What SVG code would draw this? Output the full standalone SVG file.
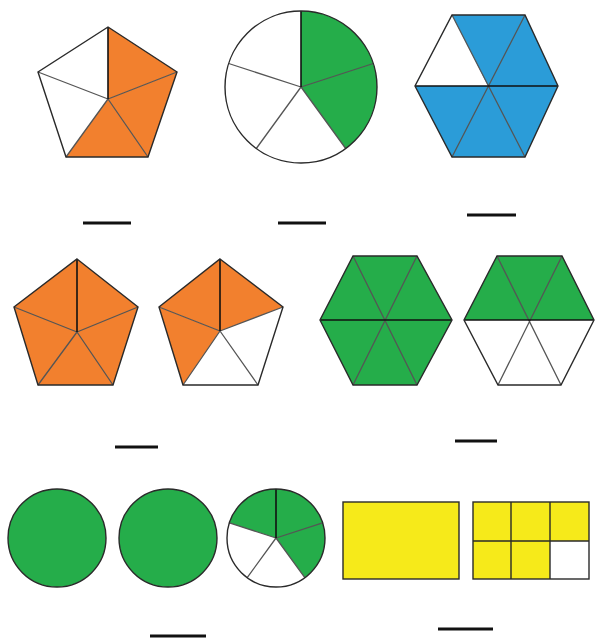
<svg xmlns="http://www.w3.org/2000/svg" width="595" height="639" viewBox="0 0 595 639">
<style>
.or{fill:#F2802E}
.gr{fill:#25AD4A}
.bl{fill:#2B9CD8}
.ye{fill:#F6EA1A}
.wh{fill:#ffffff}
.in{stroke:#555555;stroke-width:1.3;fill:none}
.ed{stroke:#2a2a2a;stroke-width:1.4;fill:none}
.ax{stroke:#111111;stroke-width:1.6;fill:none}
.blank{stroke:#111111;stroke-width:3;fill:none}
</style>
<rect width="595" height="639" fill="#ffffff"/>

<g id="pentagon1">
<polygon class="wh" points="108,27 177,72 148,157 66,157 38,72"/>
<polygon class="or" points="108,99 108,27 177,72"/>
<polygon class="or" points="108,99 177,72 148,157"/>
<polygon class="or" points="108,99 148,157 66,157"/>
<path class="in" d="M108,99 L177,72 M108,99 L148,157 M108,99 L66,157 M108,99 L38,72"/>
<path class="ax" d="M108,99 L108,27"/>
<polygon class="ed" points="108,27 177,72 148,157 66,157 38,72"/>
</g>

<g id="circle1">
<circle class="wh" cx="301" cy="87" r="76"/>
<path class="gr" d="M301,87 L301,11 A76,76 0 0 1 345.7,148.5 Z"/>
<path class="in" d="M301,87 L373.3,63.5 M301,87 L345.7,148.5 M301,87 L256.3,148.5 M301,87 L228.7,63.5"/>
<path class="ax" d="M301,87 L301,11"/>
<circle class="ed" cx="301" cy="87" r="76"/>
</g>

<g id="hexagon1">
<polygon class="bl" points="452,15 525,15 558,86 525,157 452,157 415,86"/>
<polygon class="wh" points="488,86 415,86 452,15"/>
<path class="in" d="M452,15 L525,157 M525,15 L452,157"/>
<path class="ax" d="M415,86 L558,86"/>
<polygon class="ed" points="452,15 525,15 558,86 525,157 452,157 415,86"/>
</g>

<g id="pentagon2">
<polygon class="or" points="77,259 138,307 113,385 38,385 14,307"/>
<path class="in" d="M77,332 L138,307 M77,332 L113,385 M77,332 L38,385 M77,332 L14,307"/>
<path class="ax" d="M77,332 L77,259"/>
<polygon class="ed" points="77,259 138,307 113,385 38,385 14,307"/>
</g>

<g id="pentagon3">
<polygon class="wh" points="220,259 283,307 258,385 183,385 159,307"/>
<polygon class="or" points="220,331 159,307 220,259 283,307"/>
<polygon class="or" points="220,331 183,385 159,307"/>
<path class="in" d="M220,331 L283,307 M220,331 L258,385 M220,331 L183,385 M220,331 L159,307"/>
<path class="ax" d="M220,331 L220,259"/>
<polygon class="ed" points="220,259 283,307 258,385 183,385 159,307"/>
</g>

<g id="hexagon2">
<polygon class="gr" points="353,256 417,256 452,320 417,385 353,385 320,320"/>
<path class="in" d="M353,256 L417,385 M417,256 L353,385"/>
<path class="ax" d="M320,320 L452,320"/>
<polygon class="ed" points="353,256 417,256 452,320 417,385 353,385 320,320"/>
</g>

<g id="hexagon3">
<polygon class="wh" points="497,256 562,256 594,320 561,385 498,385 464,320"/>
<polygon class="gr" points="497,256 562,256 594,320 464,320"/>
<path class="in" d="M497,256 L561,385 M562,256 L498,385"/>
<path class="ax" d="M464,320 L594,320"/>
<polygon class="ed" points="497,256 562,256 594,320 561,385 498,385 464,320"/>
</g>

<g id="circle2">
<circle class="gr" cx="57" cy="538" r="49"/>
<circle class="ed" cx="57" cy="538" r="49"/>
</g>

<g id="circle3">
<circle class="gr" cx="168" cy="538" r="49"/>
<circle class="ed" cx="168" cy="538" r="49"/>
</g>

<g id="circle4">
<circle class="wh" cx="276" cy="538" r="49"/>
<path class="gr" d="M276,538 L229.4,522.9 A49,49 0 1 1 304.8,577.6 Z"/>
<path class="in" d="M276,538 L322.6,522.9 M276,538 L304.8,577.6 M276,538 L247.2,577.6 M276,538 L229.4,522.9"/>
<path class="ax" d="M276,538 L276,489"/>
<circle class="ed" cx="276" cy="538" r="49"/>
</g>

<g id="rect1">
<rect class="ye" x="343" y="502" width="116" height="77"/>
<rect class="ed" x="343" y="502" width="116" height="77"/>
</g>

<g id="rect2">
<rect class="ye" x="473" y="502" width="116" height="77"/>
<rect class="wh" x="550" y="541" width="39" height="38"/>
<path class="ed" d="M511,502 L511,579 M550,502 L550,579 M473,541 L589,541"/>
<rect class="ed" x="473" y="502" width="116" height="77"/>
</g>

<g id="blanks">
<line class="blank" x1="83" y1="223" x2="131" y2="223"/>
<line class="blank" x1="278" y1="223" x2="326" y2="223"/>
<line class="blank" x1="467" y1="215" x2="516" y2="215"/>
<line class="blank" x1="115" y1="447" x2="158" y2="447"/>
<line class="blank" x1="455" y1="441" x2="497" y2="441"/>
<line class="blank" x1="150" y1="636" x2="206" y2="636"/>
<line class="blank" x1="438" y1="629" x2="493" y2="629"/>
</g>
</svg>
